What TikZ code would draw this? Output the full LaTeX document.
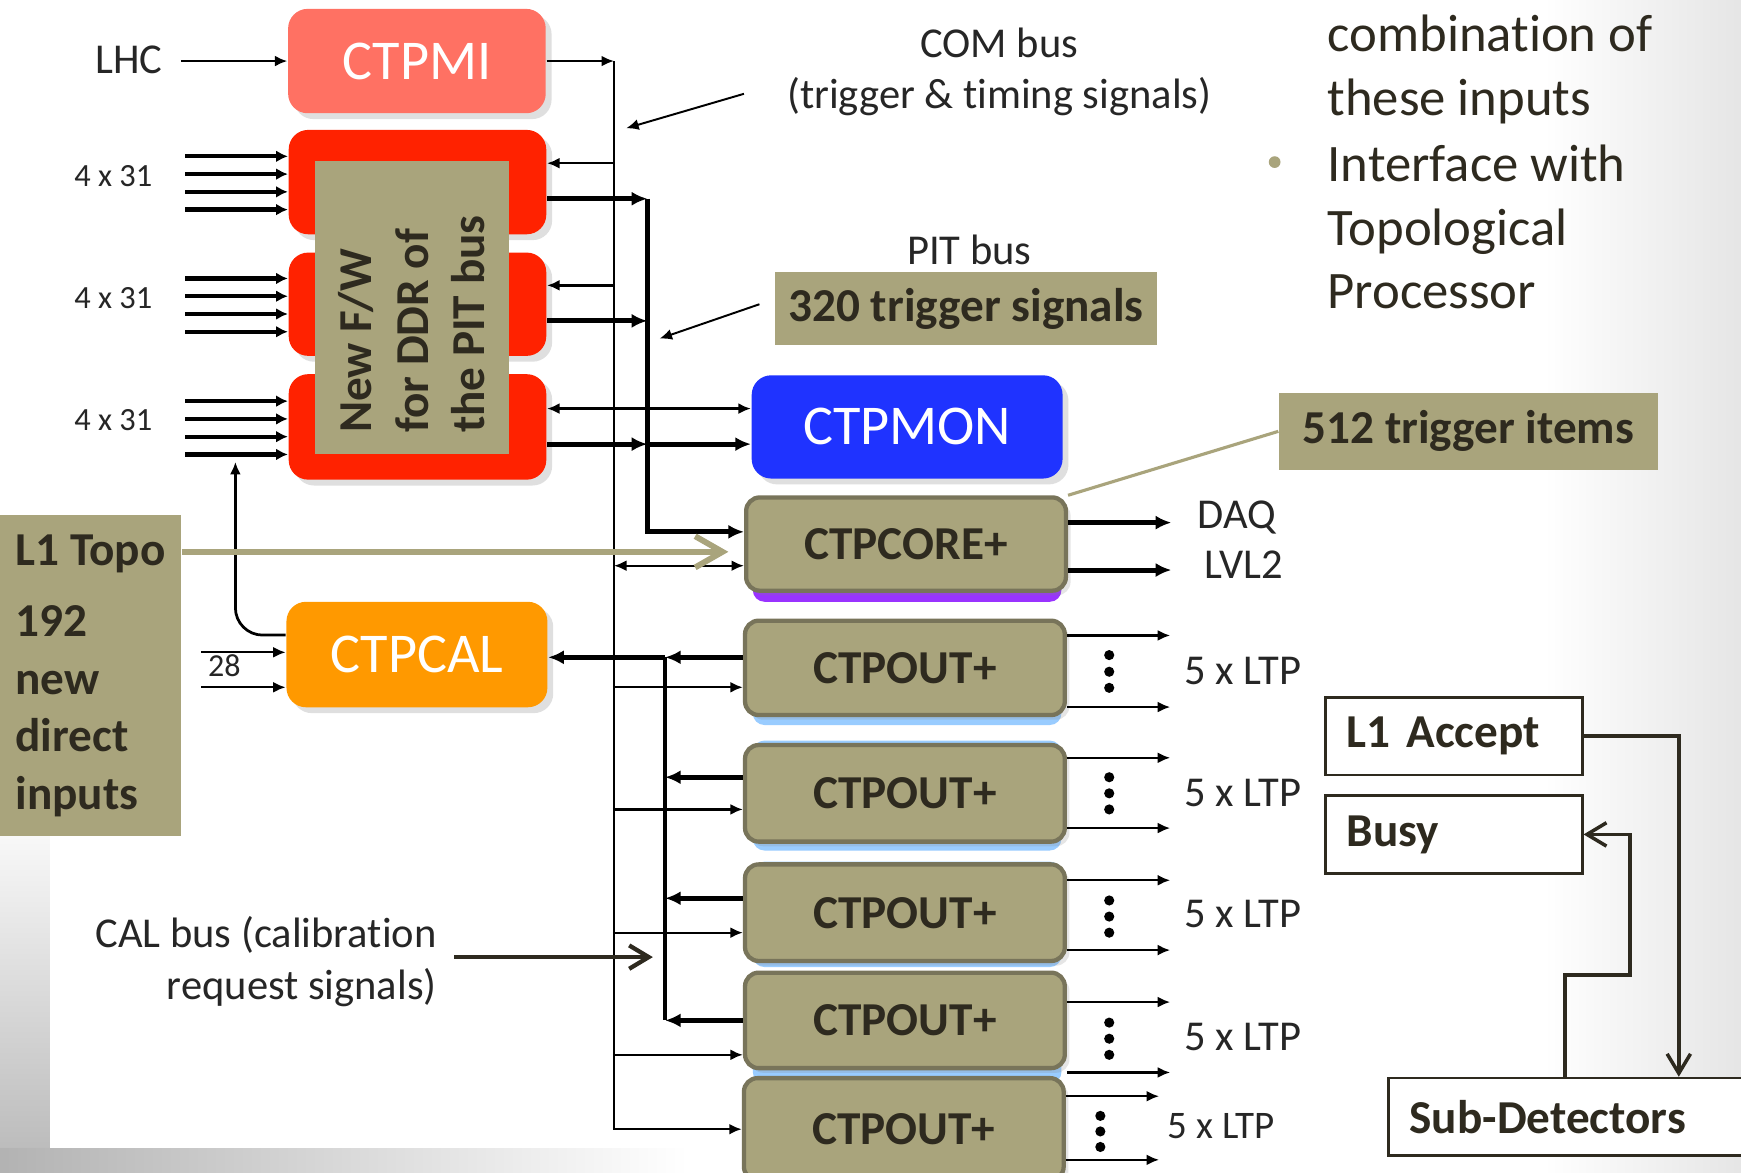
\documentclass[tikz,border=0pt]{standalone}
\usepackage{fontspec}
\setmainfont{Carlito}[Ligatures=NoCommon]
\usetikzlibrary{arrows.meta,shadows}
\definecolor{ctpmired}{HTML}{FF7163}
\definecolor{ctpinred}{HTML}{FF2200}
\definecolor{ctpmonblue}{HTML}{1F33FF}
\definecolor{ctpcalorange}{HTML}{FF9900}
\definecolor{olivefill}{HTML}{A9A47C}
\definecolor{oliveedge}{HTML}{78745A}
\definecolor{darktext}{HTML}{2E2A1F}
\definecolor{stripblue}{HTML}{99CCFF}
\definecolor{strippurple}{HTML}{9933FF}
\tikzstyle{colourbox}=[rounded corners=5pt, text=white, font=\fontsize{14.4}{17}\selectfont, drop shadow={shadow xshift=1.5pt, shadow yshift=-1.5pt, opacity=0.25}]
\tikzstyle{ctpbox}=[draw=oliveedge, line width=1.1pt, fill=olivefill, rounded corners=3.5pt, minimum width=2.88cm, minimum height=0.85cm, text=darktext, font=\bfseries\fontsize{12.1}{14}\selectfont, drop shadow={shadow xshift=1.2pt, shadow yshift=-1.2pt, opacity=0.2}]
\tikzstyle{olivelabel}=[fill=olivefill, text=darktext, font=\bfseries\fontsize{12.1}{14}\selectfont]
\tikzstyle{framebox}=[draw=darktext, line width=0.7pt, fill=white, text=darktext, font=\bfseries\fontsize{12.1}{14}\selectfont, align=left, inner xsep=0.19cm, minimum height=0.7cm]
\tikzstyle{sigtext}=[text=black!85, font=\fontsize{10.9}{13.2}\selectfont, inner sep=0pt]
\tikzstyle{righttext}=[text=darktext, font=\fontsize{13.5}{16.3}\selectfont, inner sep=0pt, align=left]
\tikzstyle{thinarrow}=[line width=0.6pt, -{Latex[length=3.2pt,width=2.8pt]}]
\tikzstyle{thinback}=[line width=0.6pt, {Latex[length=3.2pt,width=2.8pt]}-]
\tikzstyle{thinboth}=[line width=0.6pt, {Latex[length=3.2pt,width=2.8pt]}-{Latex[length=3.2pt,width=2.8pt]}]
\tikzstyle{thickarrow}=[line width=1.3pt, -{Latex[length=4pt,width=3.6pt]}]
\tikzstyle{inarrow}=[line width=1.1pt, {Latex[length=3pt,width=3pt]}-]
\tikzstyle{barbarrow}=[draw=darktext, line width=0.9pt, -{Straight Barb[length=5pt,width=6pt]}]

\begin{document}
\begin{tikzpicture}[x=0.1mm, y=-0.1mm]
	\useasboundingbox (0,0) rectangle (1568,1056);
	\fill[white] (0,0) rectangle (1568,1056);
	\shade[left color=white, right color=black!10] (1390,0) rectangle (1568,1056);
	\shade[top color=white, bottom color=black!28] (0,720) rectangle (45,1056);
	\shade[left color=black!30, right color=white] (0,1034) rectangle (620,1056);
	\fill[strippurple, rounded corners=3pt] (678,500) rectangle (956,542);
	\fill[stripblue, rounded corners=3pt] (678,590) rectangle (956,653);
	\fill[stripblue, rounded corners=3pt] (678,667) rectangle (956,766);
	\fill[stripblue, rounded corners=3pt] (678,776) rectangle (956,871);
	\fill[stripblue, rounded corners=3pt] (678,900) rectangle (956,976);
	\begin{scope}
		\node (lhc) at (116,66)[sigtext, anchor=base] {LHC};
		\node (ctpmi) at (375.5,55)[colourbox, fill=ctpmired, minimum width=2.32cm, minimum height=0.94cm] {CTPMI};
		\node (ctpin1) at (376,164)[colourbox, fill=ctpinred, minimum width=2.32cm, minimum height=0.94cm] {};
		\node (ctpin2) at (376,274)[colourbox, fill=ctpinred, minimum width=2.32cm, minimum height=0.93cm] {};
		\node (ctpin3) at (376,384.5)[colourbox, fill=ctpinred, minimum width=2.32cm, minimum height=0.95cm] {};
		\node (fw) at (371,277)[olivelabel, minimum width=1.74cm, minimum height=2.64cm] {};
		\node (fwtext) at (371,292)[rotate=90, align=left, text=darktext, font=\bfseries\fontsize{12.1}{14.5}\selectfont] {New F/W\\for DDR of\\the PIT bus};
		\node (cnt1) at (102,168)[sigtext, anchor=base, font=\fontsize{8.3}{10}\selectfont] {4 x 31};
		\node (cnt2) at (102,278)[sigtext, anchor=base, font=\fontsize{8.3}{10}\selectfont] {4 x 31};
		\node (cnt3) at (102,388)[sigtext, anchor=base, font=\fontsize{8.3}{10}\selectfont] {4 x 31};
		\node (ctpcal) at (375.5,589.5)[colourbox, fill=ctpcalorange, minimum width=2.35cm, minimum height=0.95cm] {CTPCAL};
		\node (in28) at (202,609.5)[sigtext, anchor=base, font=\fontsize{8.2}{10}\selectfont] {28};
		\node (l1topo) at (81.5,608.5)[olivelabel, minimum width=1.63cm, minimum height=2.89cm, align=left, font=\bfseries\fontsize{12.1}{14.7}\selectfont] {L1 Topo\\[3.6pt]192\\new\\direct\\inputs};
		\node (comlabel) at (900,98)[sigtext, anchor=base, align=center] {COM bus\\(trigger \& timing signals)};
		\node (pitlabel) at (873,238)[sigtext, anchor=base] {PIT bus};
		\node (trig320) at (870,278)[olivelabel, minimum width=3.44cm, minimum height=0.66cm] {320 trigger signals};
		\node (ctpmon) at (817,384.5)[colourbox, fill=ctpmonblue, minimum width=2.8cm, minimum height=0.93cm] {CTPMON};
		\node (ctpcore) at (816,490)[ctpbox, minimum height=0.84cm] {CTPCORE+};
		\node (ctpout1) at (815,601.5)[ctpbox] {CTPOUT+};
		\node (ctpout2) at (815,714.5)[ctpbox, minimum height=0.87cm] {CTPOUT+};
		\node (ctpout3) at (815,822)[ctpbox, minimum height=0.87cm] {CTPOUT+};
		\node (ctpout4) at (815,919)[ctpbox, minimum height=0.86cm] {CTPOUT+};
		\node (ctpout5) at (814,1017)[ctpbox, minimum height=0.92cm] {CTPOUT+};
		\node (items512) at (1322.5,388.5)[olivelabel, minimum width=3.41cm, minimum height=0.69cm] {512 trigger items};
		\node (daq) at (1078,476)[sigtext, anchor=base west] {DAQ};
		\node (lvl2) at (1084,521)[sigtext, anchor=base west] {LVL2};
		\node (ltp1) at (1066,616.5)[sigtext, anchor=base west] {5 x LTP};
		\node (ltp2) at (1066,726)[sigtext, anchor=base west] {5 x LTP};
		\node (ltp3) at (1066,835)[sigtext, anchor=base west] {5 x LTP};
		\node (ltp4) at (1066,946)[sigtext, anchor=base west] {5 x LTP};
		\node (ltp5) at (1051,1025.5)[sigtext, anchor=base west, font=\fontsize{10}{12}\selectfont] {5 x LTP};
		\node (calbus) at (394,900)[sigtext, anchor=base east, align=right] {CAL bus (calibration\\request signals)};
		\node (combtext) at (1195,104)[righttext, anchor=base west] {combination of\\these inputs};
		\node (ifacetext) at (1195,278)[righttext, anchor=base west] {Interface with\\Topological\\Processor};
		\node (accept) at (1309.5,663)[framebox, text width=1.93cm] {L1 Accept};
		\node (busy) at (1309.5,751.5)[framebox, text width=1.93cm] {Busy};
		\node (subdet) at (1425,1006)[framebox, text width=3.11cm] {Sub-Detectors};
	\end{scope}
	\begin{scope}
		\coordinate (comtop) at (553,55);
		\coordinate (com1) at (553,147);
		\coordinate (com2) at (553,257);
		\coordinate (com3) at (553,368);
		\coordinate (comcore) at (553,509.5);
		\coordinate (combot) at (553,1017);
		\coordinate (pit1) at (583,179);
		\coordinate (pit2) at (583,289);
		\coordinate (pit3) at (583,400);
		\coordinate (pitbot) at (583,479);
		\coordinate (cal1) at (599,592);
		\coordinate (cal2) at (599,700);
		\coordinate (cal3) at (599,809);
		\coordinate (cal4) at (599,919);
		\coordinate (calturn) at (212,572);
		\coordinate (caltip) at (212,416);
		\coordinate (comptr) at (670,84.5);
		\coordinate (comtip) at (564,115.5);
		\coordinate (pitptr) at (684,274);
		\coordinate (pittip) at (594,305);
		\coordinate (calptr) at (409,862);
		\coordinate (caltarget) at (588,862);
		\coordinate (topotip) at (656,497);
		\coordinate (accturn) at (1512,663);
		\coordinate (busyup) at (1409.5,878);
		\coordinate (busyright) at (1468,751.5);
	\end{scope}
	\begin{scope}
		\draw[thinarrow] (lhc.east |- ctpmi.west) ++(16,0) -- (ctpmi.west);
		\draw[inarrow] ([yshift=0.232cm]ctpin1.west) -- ++(-93,0);
		\draw[inarrow] ([yshift=0.072cm]ctpin1.west) -- ++(-93,0);
		\draw[inarrow] ([yshift=-0.088cm]ctpin1.west) -- ++(-93,0);
		\draw[inarrow] ([yshift=-0.248cm]ctpin1.west) -- ++(-93,0);
		\draw[inarrow] ([yshift=0.232cm]ctpin2.west) -- ++(-93,0);
		\draw[inarrow] ([yshift=0.072cm]ctpin2.west) -- ++(-93,0);
		\draw[inarrow] ([yshift=-0.088cm]ctpin2.west) -- ++(-93,0);
		\draw[inarrow] ([yshift=-0.248cm]ctpin2.west) -- ++(-93,0);
		\draw[inarrow] ([yshift=0.232cm]ctpin3.west) -- ++(-93,0);
		\draw[inarrow] ([yshift=0.072cm]ctpin3.west) -- ++(-93,0);
		\draw[inarrow] ([yshift=-0.088cm]ctpin3.west) -- ++(-93,0);
		\draw[inarrow] ([yshift=-0.248cm]ctpin3.west) -- ++(-93,0);
		\draw[thinarrow] (ctpmi.east) -- (comtop);
		\draw[thinarrow] (comtop) -- (combot) -- (ctpout5.west);
		\draw[thinarrow] (com1) -- (ctpin1.east |- com1);
		\draw[thinarrow] (com2) -- (ctpin2.east |- com2);
		\draw[thinboth] (ctpin3.east |- com3) -- (ctpmon.west |- com3);
		\draw[thinboth] (comcore) -- (ctpcore.west |- comcore);
		\draw[thinarrow] (ctpout1.west |- 0,619) ++(-117,0) -- (ctpout1.west |- 0,619);
		\draw[thinarrow] (ctpout2.west |- 0,729) ++(-117,0) -- (ctpout2.west |- 0,729);
		\draw[thinarrow] (ctpout3.west |- 0,840) ++(-117,0) -- (ctpout3.west |- 0,840);
		\draw[thinarrow] (ctpout4.west |- 0,950) ++(-117,0) -- (ctpout4.west |- 0,950);
		\draw[thickarrow] (ctpin1.east |- pit1) -- (pit1);
		\draw[thickarrow] (ctpin2.east |- pit2) -- (pit2);
		\draw[thickarrow] (ctpin3.east |- pit3) -- (pit3);
		\draw[thickarrow] (pit3) -- (ctpmon.west |- pit3);
		\draw[thickarrow] (pit1) -- (pitbot) -- (ctpcore.west |- pitbot);
		\draw[line width=1pt] (cal1) -- (cal4);
		\draw[thickarrow] (ctpout1.west |- cal1) -- (cal1);
		\draw[thickarrow] (cal1) -- (ctpcal.east |- cal1);
		\draw[thickarrow] (ctpout2.west |- cal2) -- (cal2);
		\draw[thickarrow] (ctpout3.west |- cal3) -- (cal3);
		\draw[thickarrow] (ctpout4.west |- cal4) -- (cal4);
		\draw[thinarrow, line width=0.7pt, rounded corners=7pt] (ctpcal.west |- calturn) -- (calturn) -- (caltip);
		\draw[thinback] (ctpcal.west |- 0,587.5) -- ++(-76,0);
		\draw[thinback] (ctpcal.west |- 0,619) -- ++(-76,0);
		\draw[thinarrow, line width=0.5pt] (comptr) -- (comtip);
		\draw[thinarrow, line width=0.5pt] (pitptr) -- (pittip);
		\draw[thickarrow] (ctpcore.east |- 0,470.7) -- ++(93,0);
		\draw[thickarrow] (ctpcore.east |- 0,513.4) -- ++(93,0);
		\draw[thinarrow] (ctpout1.east |- 0,572.3) -- ++(93,0);
		\draw[thinarrow] (ctpout1.east |- 0,636.8) -- ++(93,0);
		\draw[thinarrow] (ctpout2.east |- 0,682.5) -- ++(93,0);
		\draw[thinarrow] (ctpout2.east |- 0,745.8) -- ++(93,0);
		\draw[thinarrow] (ctpout3.east |- 0,792.8) -- ++(93,0);
		\draw[thinarrow] (ctpout3.east |- 0,855.7) -- ++(93,0);
		\draw[thinarrow] (ctpout4.east |- 0,902.5) -- ++(93,0);
		\draw[thinarrow] (ctpout4.east |- 0,965.9) -- ++(93,0);
		\draw[thinarrow] (ctpout5.east |- 0,987.3) -- ++(84,0);
		\draw[thinarrow] (ctpout5.east |- 0,1044.6) -- ++(84,0);
		\fill (999,590) circle[radius=1.3pt] (999,605) circle[radius=1.3pt] (999,619.5) circle[radius=1.3pt];
		\fill (999,700) circle[radius=1.3pt] (999,714.5) circle[radius=1.3pt] (999,729) circle[radius=1.3pt];
		\fill (999,811) circle[radius=1.3pt] (999,825.5) circle[radius=1.3pt] (999,840) circle[radius=1.3pt];
		\fill (999,921) circle[radius=1.3pt] (999,935.5) circle[radius=1.3pt] (999,950) circle[radius=1.3pt];
		\fill (991,1005) circle[radius=1.3pt] (991,1019) circle[radius=1.3pt] (991,1033) circle[radius=1.3pt];
		\fill[olivefill] (1148,146) circle[radius=1.5pt];
		\draw[barbarrow, line width=1.1pt] (calptr) -- (caltarget);
		\draw[barbarrow] (accept.east) -- (accturn) -- (accturn |- subdet.north);
		\draw[barbarrow] (busyup |- subdet.north) -- (busyup) -| (busyright) -- (busy.east);
		\draw[olivefill, line width=0.8pt] (ctpcore.north east) -- (items512.west);
		\draw[olivefill, line width=1.5pt, -{Straight Barb[length=7pt,width=8pt]}] (l1topo.east |- topotip) -- (topotip);
	\end{scope}
\end{tikzpicture}
\end{document}
